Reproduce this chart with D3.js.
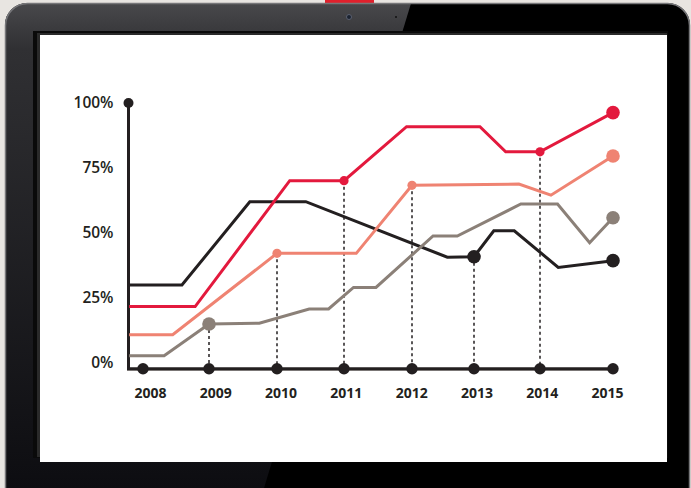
<!DOCTYPE html>
<html>
<head>
<meta charset="utf-8">
<script src="https://cdn.jsdelivr.net/npm/d3@7/dist/d3.min.js"></script>
<style>
  html, body { margin: 0; padding: 0; background: #e8e5e1; }
  svg { display: block; }
</style>
</head>
<body>
<svg id="chart" width="691" height="488"></svg>
<script>
// ---------- DATA ----------
const years = [2008, 2009, 2010, 2011, 2012, 2013, 2014, 2015];
const yTicks = [0, 25, 50, 75, 100];

// [year (fractional), percent]
const blackSeries = [[2007.79,29.9],[2008.59,29.9],[2009.60,62.0],[2010.43,62.0],[2012.57,40.6],[2013,40.8],[2013.30,50.8],[2013.61,50.8],[2014.25,36.7],[2015,39.3]];
const redSeries = [[2007.79,21.6],[2008.79,21.6],[2010.19,70.1],[2011,70.1],[2011.92,90.9],[2013.09,90.9],[2013.48,81.2],[2014,81.2],[2015,96.3]];
const salmonSeries = [[2007.79,10.8],[2008.45,10.8],[2010,42.1],[2011.18,42.1],[2012,68.3],[2013.68,68.8],[2014.15,64.5],[2015,79.6]];
const graySeries = [[2007.79,2.7],[2008.32,2.7],[2009,14.9],[2009.74,15.2],[2010.48,20.7],[2010.77,20.7],[2011.14,29.0],[2011.47,29.0],[2012.34,48.8],[2012.73,48.8],[2013.71,61.1],[2014.24,61.1],[2014.68,46.2],[2015,55.8]];

// highlighted years on each series
const blackMarkerYears = [2013, 2015];
const redMarkerYears = [2011, 2014, 2015];
const salmonMarkerYears = [2010, 2012, 2015];
const grayMarkerYears = [2009, 2015];

// ---------- LAYOUT / STYLE ----------
const COLORS = { black: "#231f20", red: "#e3193d", salmon: "#ef8372", gray: "#8b8078" };
const svg = d3.select("#chart");

// laptop frame
const defs = svg.append("defs");
const grad = defs.append("linearGradient").attr("id", "bez").attr("x1", 0).attr("y1", 0).attr("x2", 0).attr("y2", 1);
grad.append("stop").attr("offset", "0").attr("stop-color", "#4a4a4d");
grad.append("stop").attr("offset", "0.1").attr("stop-color", "#303033");
grad.append("stop").attr("offset", "1").attr("stop-color", "#0d0d11");
defs.append("clipPath").attr("id", "bezclip").append("rect")
  .attr("x", 5).attr("y", 3).attr("width", 685).attr("height", 540).attr("rx", 22);

svg.append("rect").attr("width", 691).attr("height", 488).attr("fill", "#e8e5e1");
svg.append("rect").attr("x", 325).attr("y", 0).attr("width", 49).attr("height", 4).attr("fill", "#e0202c");
svg.append("rect").attr("x", 5).attr("y", 3).attr("width", 685).attr("height", 540).attr("rx", 22)
  .attr("fill", "#000");
svg.append("polygon").attr("clip-path", "url(#bezclip)")
  .attr("points", "0,0 412,0 264,488 0,488").attr("fill", "url(#bez)");
svg.append("rect").attr("x", 5.5).attr("y", 3.5).attr("width", 684).attr("height", 540).attr("rx", 22)
  .attr("fill", "none").attr("stroke", "#77777a").attr("stroke-width", 1.5);
svg.append("circle").attr("cx", 349).attr("cy", 17).attr("r", 2.5).attr("fill", "#1a2230").attr("stroke", "#5a6070").attr("stroke-width", 1);
svg.append("circle").attr("cx", 396).attr("cy", 17).attr("r", 1).attr("fill", "#111");
svg.append("rect").attr("x", 33).attr("y", 31).attr("width", 635).attr("height", 427).attr("fill", "#0a0a0a");
svg.append("rect").attr("x", 37).attr("y", 33).attr("width", 630).attr("height", 424).attr("fill", "#2a2a2a");
svg.append("rect").attr("x", 40).attr("y", 35).attr("width", 627).attr("height", 427).attr("fill", "#ffffff");

// scales
const x = d3.scaleLinear().domain(years).range([143, 209, 277, 344, 412, 474, 540, 613]);
const xLabel = d3.scalePoint().domain(years).range([150, 607]);
const y = d3.scaleLinear().domain([0, 100]).range([362.7, 103]);
const axisX = 128.5;
const axisY = y(0) + 6;

const g = svg.append("g");

// dashed guides (drawn first)
const guides = [
  { s: graySeries, yr: 2009 }, { s: salmonSeries, yr: 2010 }, { s: redSeries, yr: 2011 },
  { s: salmonSeries, yr: 2012 }, { s: blackSeries, yr: 2013 }, { s: redSeries, yr: 2014 }
];
guides.forEach(d => {
  const v = d.s.find(p => p[0] === d.yr)[1];
  g.append("line").attr("x1", x(d.yr)).attr("x2", x(d.yr)).attr("y1", y(v)).attr("y2", axisY)
    .attr("stroke", COLORS.black).attr("stroke-width", 1.5).attr("stroke-dasharray", "3,3");
});

// axes lines
g.append("line").attr("x1", axisX).attr("x2", axisX).attr("y1", y(100)).attr("y2", axisY + 1.5)
  .attr("stroke", COLORS.black).attr("stroke-width", 3);
g.append("line").attr("x1", axisX - 1.5).attr("x2", x(2015)).attr("y1", axisY + 1.5).attr("y2", axisY + 1.5)
  .attr("stroke", "#9a9693").attr("stroke-width", 1.5);
g.append("line").attr("x1", axisX - 1.5).attr("x2", x(2015)).attr("y1", axisY).attr("y2", axisY)
  .attr("stroke", COLORS.black).attr("stroke-width", 3);
g.append("circle").attr("cx", axisX).attr("cy", y(100)).attr("r", 5).attr("fill", COLORS.black);
g.selectAll(".xdot").data(years).join("circle").attr("class", "xdot")
  .attr("cx", d => x(d)).attr("cy", axisY).attr("r", 5.7).attr("fill", COLORS.black);

// axis labels
const yAxis = g.append("g").attr("transform", `translate(${axisX - 12},0)`)
  .call(d3.axisLeft(y).tickValues(yTicks).tickFormat(d => d + "%").tickSize(0).tickPadding(3));
yAxis.select(".domain").remove();
yAxis.selectAll("text").attr("font-family", "'Open Sans', sans-serif").attr("font-size", 15.5)
  .attr("font-weight", 600).attr("fill", COLORS.black);

const xAxis = g.append("g").attr("transform", `translate(0,${axisY + 19})`)
  .call(d3.axisBottom(xLabel).tickSize(0).tickPadding(0));
xAxis.select(".domain").remove();
xAxis.selectAll("text").attr("font-family", "'Open Sans', sans-serif").attr("font-size", 14)
  .attr("font-weight", 700).attr("fill", COLORS.black);

// lines
const line = d3.line().x(d => x(d[0])).y(d => y(d[1]));
const series = [
  { data: blackSeries, color: COLORS.black, marks: blackMarkerYears, big: [2013, 2015] },
  { data: graySeries, color: COLORS.gray, marks: grayMarkerYears, big: [2009, 2015] },
  { data: salmonSeries, color: COLORS.salmon, marks: salmonMarkerYears, big: [2015] },
  { data: redSeries, color: COLORS.red, marks: redMarkerYears, big: [2015] }
];
series.forEach(s => {
  g.append("path").attr("d", line(s.data)).attr("fill", "none")
    .attr("stroke", s.color).attr("stroke-width", 3);
});
series.forEach(s => {
  s.marks.forEach(yr => {
    const v = s.data.find(p => p[0] === yr)[1];
    g.append("circle").attr("cx", x(yr)).attr("cy", y(v))
      .attr("r", s.big.includes(yr) ? 6.8 : 4.6).attr("fill", s.color);
  });
});
</script>
</body>
</html>
